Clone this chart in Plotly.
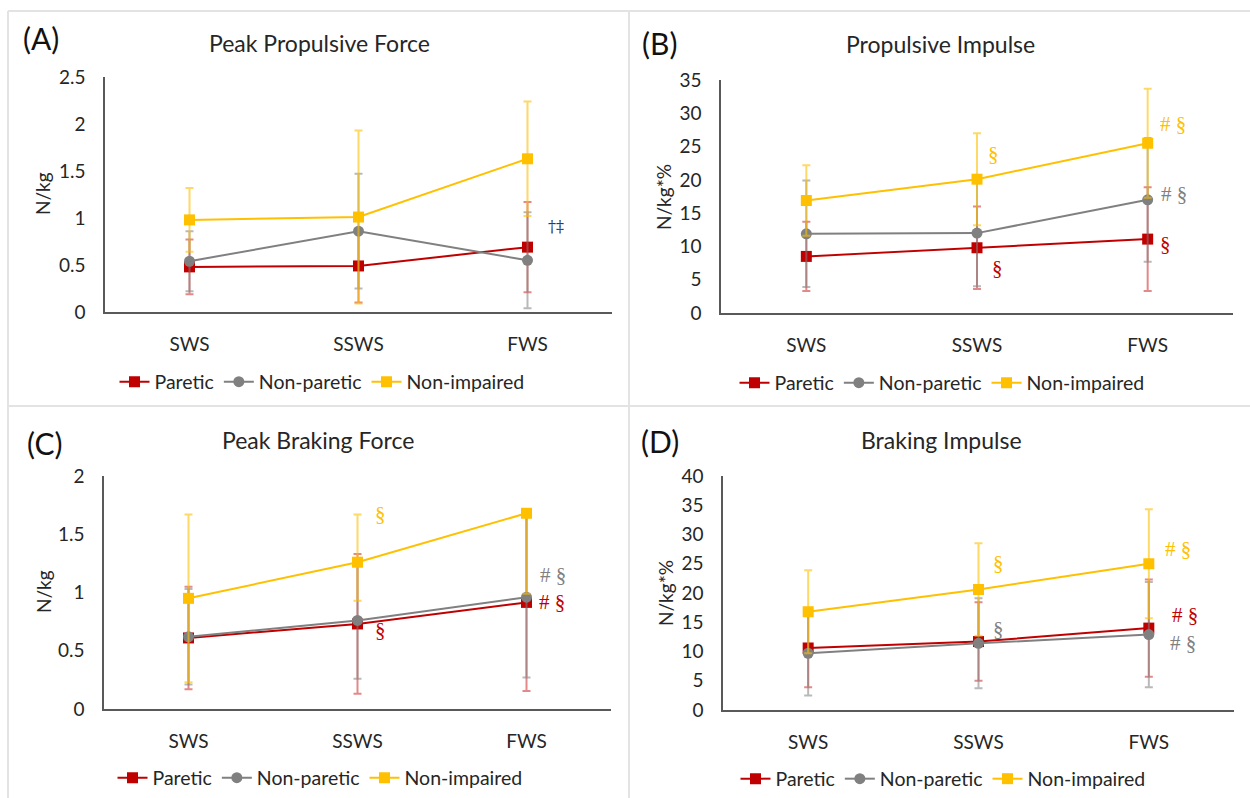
import plotly.graph_objects as go

W, H = 1250, 798
FONT = "Lato"

speeds = ["SWS", "SSWS", "FWS"]
series_names = ["Paretic", "Non-paretic", "Non-impaired"]

# (A) Peak Propulsive Force (N/kg)
a_paretic = [0.48, 0.49, 0.69]
a_paretic_sd = [0.29, 0.39, 0.48]
a_nonparetic = [0.54, 0.86, 0.55]
a_nonparetic_sd = [0.32, 0.61, 0.51]
a_nonimpaired = [0.98, 1.01, 1.63]
a_nonimpaired_sd = [0.34, 0.92, 0.61]

# (B) Propulsive Impulse (N/kg*%)
b_paretic = [8.5, 9.8, 11.1]
b_paretic_sd = [5.2, 6.2, 7.8]
b_nonparetic = [11.9, 12.0, 17.0]
b_nonparetic_sd = [8.0, 8.0, 9.3]
b_nonimpaired = [16.9, 20.1, 25.5]
b_nonimpaired_sd = [5.3, 6.9, 8.2]

# (C) Peak Braking Force (N/kg)
c_paretic = [0.61, 0.73, 0.915]
c_paretic_sd = [0.44, 0.60, 0.76]
c_nonparetic = [0.62, 0.76, 0.96]
c_nonparetic_sd = [0.41, 0.50, 0.69]
c_nonimpaired = [0.95, 1.26, 1.68]
c_nonimpaired_sd_plus = [0.72, 0.41, 0.0]
c_nonimpaired_sd_minus = [0.72, 0.33, 0.69]

# (D) Braking Impulse (N/kg*%)
d_paretic = [10.6, 11.7, 14.0]
d_paretic_sd = [6.7, 6.7, 8.3]
d_nonparetic = [9.7, 11.4, 12.9]
d_nonparetic_sd = [7.2, 7.7, 9.0]
d_nonimpaired = [16.8, 20.6, 25.0]
d_nonimpaired_sd = [7.1, 7.9, 9.3]

RED, GRAY, GOLD = "#C00000", "#808080", "#FFC000"
ERR = {RED: "rgba(205,40,40,0.55)", GRAY: "rgba(128,128,128,0.55)", GOLD: "rgba(255,192,0,0.6)"}
SYM = {RED: "square", GRAY: "circle", GOLD: "square"}

def px_x(p):
    return p / W

def px_y(p):
    return 1 - p / H

panels = [
    dict(letter="(A)", title="Peak Propulsive Force", ytitle="N/kg",
         xd=(105, 612), yd=(77, 312), yr=[0, 2.5], dt=0.5,
         lab=(41, 38), tit=(319, 43), yt=(43, 194), leg=(322, 382),
         data=[(a_paretic, a_paretic_sd, a_paretic_sd),
               (a_nonparetic, a_nonparetic_sd, a_nonparetic_sd),
               (a_nonimpaired, a_nonimpaired_sd, a_nonimpaired_sd)]),
    dict(letter="(B)", title="Propulsive Impulse", ytitle="N/kg*%",
         xd=(721, 1233), yd=(80, 313), yr=[0, 35], dt=5,
         lab=(659, 43), tit=(940, 44), yt=(664, 197), leg=(942, 383),
         data=[(b_paretic, b_paretic_sd, b_paretic_sd),
               (b_nonparetic, b_nonparetic_sd, b_nonparetic_sd),
               (b_nonimpaired, b_nonimpaired_sd, b_nonimpaired_sd)]),
    dict(letter="(C)", title="Peak Braking Force", ytitle="N/kg",
         xd=(104, 611), yd=(476, 709), yr=[0, 2], dt=0.5,
         lab=(44, 443), tit=(318, 440), yt=(43, 592), leg=(320, 778),
         data=[(c_paretic, c_paretic_sd, c_paretic_sd),
               (c_nonparetic, c_nonparetic_sd, c_nonparetic_sd),
               (c_nonimpaired, c_nonimpaired_sd_plus, c_nonimpaired_sd_minus)]),
    dict(letter="(D)", title="Braking Impulse", ytitle="N/kg*%",
         xd=(723, 1234), yd=(476, 710), yr=[0, 40], dt=5,
         lab=(660, 441), tit=(941, 440), yt=(665, 593), leg=(943, 779),
         data=[(d_paretic, d_paretic_sd, d_paretic_sd),
               (d_nonparetic, d_nonparetic_sd, d_nonparetic_sd),
               (d_nonimpaired, d_nonimpaired_sd, d_nonimpaired_sd)]),
]

# significance marks: (panel index, category, y value, text, color, xshift)
sig_marks = [
    (0, "FWS", 0.91, "†‡", "#3A3A3A", 28),
    (1, "SSWS", 23.9, "§", GOLD, 16),
    (1, "SSWS", 6.8, "§", RED, 20),
    (1, "FWS", 28.4, "# §", GOLD, 25),
    (1, "FWS", 17.9, "# §", GRAY, 26),
    (1, "FWS", 10.4, "§", RED, 18),
    (2, "SSWS", 1.67, "§", GOLD, 23),
    (2, "SSWS", 0.68, "§", RED, 23),
    (2, "FWS", 2.05, "# §", GOLD, 29),
    (2, "FWS", 1.15, "# §", GRAY, 26),
    (2, "FWS", 0.92, "# §", RED, 25),
    (3, "SSWS", 25.1, "§", GOLD, 20),
    (3, "SSWS", 13.8, "§", GRAY, 20),
    (3, "FWS", 27.5, "# §", GOLD, 29),
    (3, "FWS", 16.2, "# §", RED, 36),
    (3, "FWS", 11.5, "# §", GRAY, 34),
]

fig = go.Figure()
layout = dict(width=W, height=H, margin=dict(l=0, r=0, t=0, b=0, pad=0, autoexpand=False),
              paper_bgcolor="white", plot_bgcolor="white",
              font=dict(family=FONT, color="#262626"), showlegend=True)
annotations = []
colors = [RED, GRAY, GOLD]

for i, p in enumerate(panels):
    n = "" if i == 0 else str(i + 1)
    xa, ya = "x" + n, "y" + n
    leg = "legend" + n
    layout["xaxis" + n] = dict(domain=[px_x(p["xd"][0]), px_x(p["xd"][1])], anchor=ya,
                               type="category", range=[-0.5, 2.5], showline=True,
                               linecolor="#595959", linewidth=1.5, showgrid=False,
                               zeroline=False, ticks="", ticklabelstandoff=14,
                               tickfont=dict(size=19, family=FONT, color="#262626"))
    layout["yaxis" + n] = dict(domain=[px_y(p["yd"][1]), px_y(p["yd"][0])], anchor=xa,
                               range=p["yr"], dtick=p["dt"], showline=True,
                               linecolor="#595959", linewidth=1.5, showgrid=False,
                               zeroline=False, ticks="", ticklabelstandoff=14,
                               tickfont=dict(size=19, family=FONT, color="#262626"))
    layout[leg] = dict(orientation="h", x=px_x(p["leg"][0]), y=px_y(p["leg"][1]),
                       xanchor="center", yanchor="middle", bgcolor="rgba(0,0,0,0)",
                       font=dict(size=19.5, family=FONT, color="#262626"),
                       itemwidth=30, tracegroupgap=0, itemclick=False)
    for (vals, plus, minus), name, c in zip(p["data"], series_names, colors):
        fig.add_trace(go.Scatter(
            x=speeds, y=vals, name=name, mode="lines+markers", xaxis=xa, yaxis=ya,
            legend=leg, line=dict(color=c, width=2),
            marker=dict(color=c, size=11, symbol=SYM[c]),
            error_y=dict(type="data", array=plus, arrayminus=minus, symmetric=False,
                         color=ERR[c], thickness=2, width=4),
            cliponaxis=False))
    annotations.append(dict(x=px_x(p["lab"][0]), y=px_y(p["lab"][1]), xref="paper", yref="paper",
                            text=p["letter"], showarrow=False, xanchor="center", yanchor="middle",
                            font=dict(size=30, family=FONT, color="#111111")))
    annotations.append(dict(x=px_x(p["tit"][0]), y=px_y(p["tit"][1]), xref="paper", yref="paper",
                            text=p["title"], showarrow=False, xanchor="center", yanchor="middle",
                            font=dict(size=23, family=FONT, color="#262626")))
    annotations.append(dict(x=px_x(p["yt"][0]), y=px_y(p["yt"][1]), xref="paper", yref="paper",
                            text=p["ytitle"], showarrow=False, textangle=-90,
                            xanchor="center", yanchor="middle",
                            font=dict(size=19, family=FONT, color="#262626")))

for (pi, cat, yv, txt, col, xs) in sig_marks:
    n = "" if pi == 0 else str(pi + 1)
    annotations.append(dict(x=cat, y=yv, xref="x" + n, yref="y" + n, text=txt,
                            showarrow=False, xshift=xs, xanchor="center", yanchor="middle",
                            font=dict(size=21 if txt != "†‡" else 16,
                                      family="Liberation Serif" if txt != "†‡" else "DejaVu Serif",
                                      color=col)))

border = "#E3E3E3"
layout["shapes"] = [
    dict(type="line", xref="paper", yref="paper", x0=px_x(8), x1=1, y0=px_y(11), y1=px_y(11),
         line=dict(color=border, width=2)),
    dict(type="line", xref="paper", yref="paper", x0=px_x(8), x1=px_x(8), y0=px_y(11), y1=0,
         line=dict(color=border, width=2)),
    dict(type="line", xref="paper", yref="paper", x0=px_x(629), x1=px_x(629), y0=px_y(11), y1=0,
         line=dict(color=border, width=2)),
    dict(type="line", xref="paper", yref="paper", x0=px_x(8), x1=1, y0=px_y(406), y1=px_y(406),
         line=dict(color=border, width=2)),
]
layout["annotations"] = annotations
fig.update_layout(**layout)
fig.write_html("out.html", config={"displayModeBar": False},
               post_script="document.body.style.margin='0px';")
